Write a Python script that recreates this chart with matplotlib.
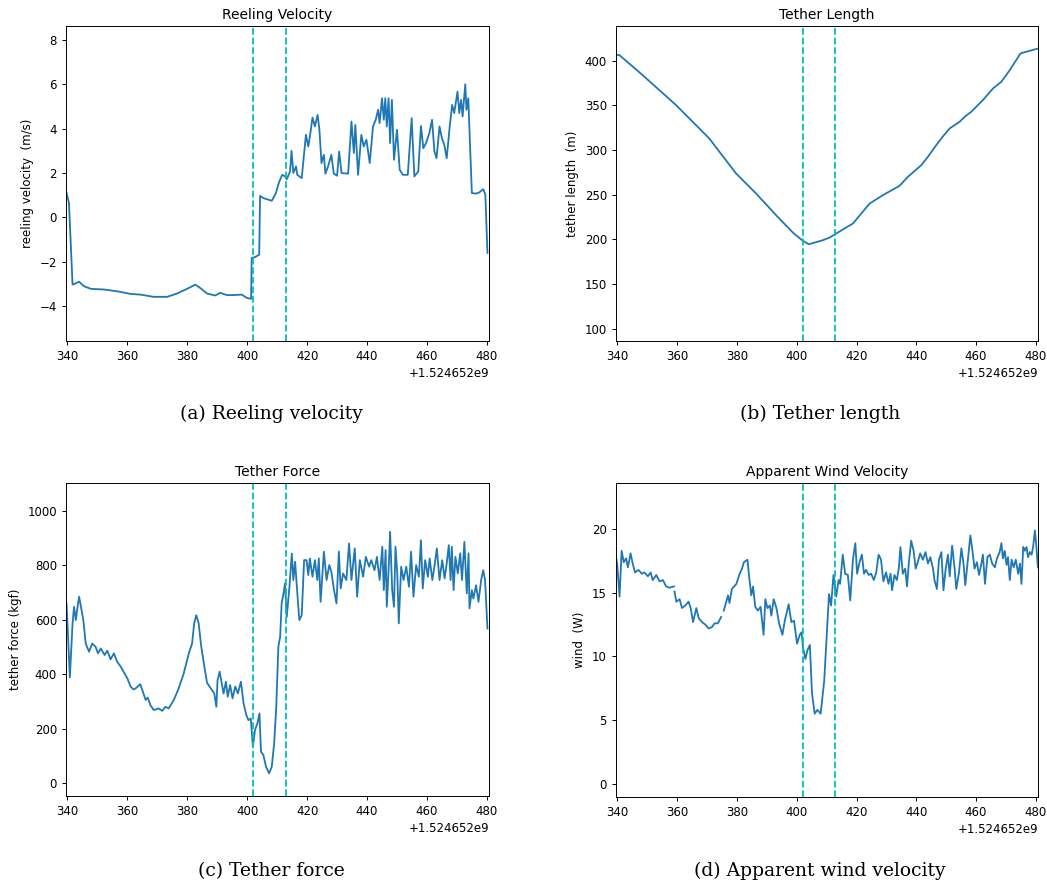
import numpy as np
import matplotlib.pyplot as plt

# time stamps are seconds after T0
T0 = 1.524652e9
phase_marks = [402.0, 412.8]
x_range = (339.5, 480.7)

# Reeling velocity (m/s)
reel_t = [339.7, 340.5, 341.7, 343.9, 345.5, 347.8, 352.2, 356.6, 361.1, 364.4,
          368.8, 373.3, 376.6, 379.9, 382.7, 384.3, 386.6, 389.3, 391.0, 393.2,
          395.4, 398.2, 399.9, 401.3, 401.5, 402.6, 404.0, 404.3, 405.4, 408.2,
          409.6, 410.6, 411.7, 412.6, 413.2, 414.3, 414.8, 415.4, 416.3, 416.7,
          418.2, 419.6, 420.4, 421.0, 421.8, 422.6, 423.5, 424.1, 424.8, 425.6,
          426.1, 427.0, 428.1, 428.9, 430.0, 430.7, 431.5, 433.7, 434.8, 435.6,
          436.1, 437.0, 438.1, 438.9, 439.8, 440.9, 442.0, 442.9, 443.7, 444.2,
          445.0, 445.6, 446.1, 446.6, 447.2, 447.7, 448.3, 449.0, 450.0, 450.9,
          452.0, 453.6, 454.9, 455.8, 457.1, 458.0, 458.8, 459.7, 460.8, 461.7,
          462.5, 463.2, 464.2, 465.0, 465.8, 466.6, 467.5, 468.4, 469.1, 470.2,
          470.8, 471.4, 471.9, 472.8, 473.2, 473.8, 474.4, 475.0, 476.3, 477.4,
          478.8, 479.5, 480.2]
reel_v = [1.1, 0.65, -3.03, -2.9, -3.1, -3.22, -3.25, -3.33, -3.45, -3.48,
          -3.58, -3.58, -3.43, -3.22, -3.03, -3.18, -3.43, -3.52, -3.4, -3.5,
          -3.5, -3.48, -3.63, -3.67, -1.83, -1.79, -1.68, 0.97, 0.87, 0.75,
          1.1, 1.58, 1.92, 1.85, 1.72, 2.07, 3.0, 2.0, 2.3, 1.92,
          1.77, 3.72, 3.2, 3.72, 4.5, 4.1, 4.62, 3.95, 2.45, 2.82,
          1.97, 2.3, 2.82, 1.97, 1.88, 2.97, 2.0, 1.97, 4.32, 2.9,
          4.17, 1.92, 3.72, 3.2, 3.5, 2.45, 4.1, 4.4, 4.85, 4.25,
          5.37, 4.4, 5.37, 4.1, 5.37, 3.35, 5.3, 2.6, 3.95, 2.15,
          1.92, 1.92, 4.47, 1.85, 2.07, 4.12, 3.12, 3.35, 3.8, 4.4,
          2.97, 2.67, 4.1, 3.57, 3.27, 2.67, 3.95, 5.07, 4.7, 5.67,
          4.7, 5.3, 4.55, 6.0, 4.85, 5.37, 3.2, 1.1, 1.07, 1.12,
          1.27, 1.02, -1.6]

# Tether length (m)
length_t = [339.1, 340.6, 348.4, 359.6, 370.7, 379.7, 386.4, 393.1, 398.7, 401.8,
            404.0, 408.7, 411.0, 413.2, 416.5, 418.8, 421.6, 424.4, 428.8, 434.4,
            437.2, 441.7, 443.9, 446.7, 449.0, 451.2, 454.5, 456.2, 458.4, 462.3,
            465.7, 468.5, 471.3, 474.9, 476.9, 480.7]
length_m = [406.4, 406.4, 383.9, 350.3, 313.0, 273.7, 251.3, 227.0, 207.6, 199.0,
            194.5, 199.0, 202.0, 206.5, 213.2, 217.7, 228.9, 240.1, 249.4, 259.9,
            270.0, 283.1, 292.4, 305.5, 315.6, 324.2, 331.6, 337.2, 342.8, 355.9,
            369.0, 376.5, 389.5, 408.2, 410.1, 413.5]

# Tether force (kgf)
force_t = [339.7, 340.8, 341.7, 342.2, 342.8, 343.3, 343.9, 344.7, 345.3, 346.1,
           347.2, 348.3, 349.4, 350.2, 351.1, 352.4, 353.3, 354.4, 355.5, 356.6,
           357.8, 359.1, 360.0, 361.1, 362.0, 362.7, 364.3, 365.0, 366.1, 366.8,
           367.7, 368.8, 370.5, 371.6, 372.7, 373.8, 375.5, 377.1, 378.8, 380.5,
           381.6, 382.3, 383.0, 383.8, 384.6, 385.7, 386.6, 387.9, 389.0, 389.7,
           390.1, 390.8, 391.5, 392.1, 392.9, 393.5, 394.3, 395.1, 396.0, 396.9,
           397.9, 398.8, 399.7, 400.4, 401.2, 401.9, 402.6, 403.4, 404.1, 404.6,
           405.4, 406.3, 407.3, 408.2, 409.0, 409.7, 410.4, 411.0, 411.5, 412.3,
           412.6, 413.2, 414.1, 414.9, 415.4, 416.0, 416.5, 417.4, 418.2, 419.0,
           419.8, 420.4, 420.9, 421.8, 422.6, 423.4, 423.9, 424.5, 425.6, 426.5,
           427.4, 428.1, 428.9, 429.8, 430.6, 431.2, 432.0, 433.1, 434.0, 434.8,
           435.9, 436.7, 437.6, 438.7, 439.6, 440.7, 441.4, 442.5, 443.3, 444.2,
           445.1, 445.6, 446.2, 446.6, 447.3, 447.7, 448.4, 449.0, 449.5, 450.1,
           450.6, 451.4, 452.2, 453.1, 454.0, 454.7, 455.5, 456.4, 457.3, 458.0,
           458.6, 459.4, 460.3, 460.9, 461.8, 462.5, 463.3, 464.2, 465.1, 465.9,
           466.6, 467.3, 467.9, 468.3, 468.9, 469.5, 470.3, 471.1, 471.7, 472.5,
           473.3, 473.9, 474.2, 475.0, 475.5, 476.4, 477.2, 478.1, 478.8, 479.4,
           480.2]
force_kgf = [660, 389, 587, 648, 599, 642, 685, 636, 599, 513,
             483, 513, 501, 477, 495, 471, 487, 455, 477, 446,
             428, 403, 385, 355, 345, 348, 364, 342, 306, 315,
             287, 269, 275, 266, 281, 275, 306, 348, 403, 477,
             513, 587, 617, 587, 507, 428, 369, 348, 330, 281,
             379, 410, 367, 330, 373, 318, 361, 312, 355, 330,
             373, 293, 251, 232, 238, 134, 196, 220, 257, 116,
             104, 61, 37, 61, 147, 281, 501, 538, 660, 709,
             733, 611, 721, 843, 746, 813, 733, 599, 617, 819,
             819, 764, 825, 758, 819, 746, 825, 666, 850, 746,
             801, 776, 715, 660, 850, 715, 770, 746, 880, 746,
             862, 685, 819, 758, 831, 795, 819, 782, 831, 746,
             868, 709, 856, 648, 807, 923, 709, 648, 868, 770,
             587, 795, 746, 795, 721, 850, 685, 801, 758, 892,
             715, 819, 758, 825, 746, 795, 862, 746, 819, 752,
             807, 874, 746, 868, 709, 831, 770, 844, 746, 886,
             697, 844, 642, 709, 678, 727, 666, 746, 782, 746,
             568]

# Apparent wind velocity (gaps are missing samples)
wind_t = [339.2, 339.9, 340.7, 341.4, 342.1, 342.9, 343.5, 344.4, 345.1, 345.9,
          347.0, 348.2, 349.0, 350.2, 351.1, 351.8, 353.0, 354.1, 355.2, 356.3,
          357.4, 358.9, 359.0, 359.1, 359.7, 360.8, 361.6, 362.7, 363.8, 364.5,
          365.3, 366.4, 367.2, 368.3, 369.4, 370.5, 371.6, 372.5, 373.6, 374.7,
          375.2, 375.6, 376.4, 377.0, 377.5, 378.3, 379.8, 380.9, 381.7, 382.3,
          383.5, 384.2, 384.8, 385.4, 386.1, 387.0, 387.9, 388.4, 388.9, 389.5,
          390.2, 391.0, 391.5, 392.3, 393.2, 394.1, 395.2, 396.0, 397.3, 398.2,
          399.1, 400.1, 401.0, 401.6, 402.1, 402.9, 403.6, 404.4, 405.1, 406.0,
          406.9, 408.0, 409.2, 410.3, 410.8, 411.5, 412.3, 413.2, 414.0, 414.5,
          415.4, 416.2, 417.1, 417.9, 418.8, 419.6, 420.2, 421.0, 421.8, 422.5,
          423.2, 424.1, 424.9, 425.8, 426.6, 427.4, 428.2, 429.0, 429.9, 430.7,
          431.4, 431.9, 432.7, 433.5, 434.2, 434.7, 435.5, 436.3, 436.9, 437.5,
          438.3, 439.1, 439.8, 440.5, 441.3, 442.2, 443.1, 443.9, 444.7, 445.6,
          446.1, 446.9, 447.6, 448.4, 449.1, 449.8, 450.6, 451.2, 452.0, 452.8,
          453.4, 454.3, 455.1, 455.8, 456.4, 457.1, 458.1, 458.8, 459.5, 460.3,
          461.0, 461.8, 462.3, 463.0, 463.8, 464.6, 465.4, 466.3, 467.0, 467.9,
          468.5, 469.0, 469.6, 470.2, 470.7, 471.3, 471.9, 472.6, 473.3, 474.1,
          474.7, 475.2, 475.8, 476.3, 476.9, 477.4, 478.0, 478.6, 479.1, 479.7,
          480.2, 480.7]
wind_w = [18.2, 17.3, 14.7, 18.3, 17.4, 17.7, 17.0, 18.1, 17.3, 16.6,
          16.8, 16.5, 16.6, 16.3, 16.6, 16.0, 16.4, 15.9, 16.0, 15.5,
          15.4, 15.5, np.nan, 15.1, 14.3, 14.5, 13.8, 14.0, 14.3, 13.8,
          12.7, 13.8, 13.0, 12.7, 12.5, 12.2, 12.3, 12.6, 12.6, 13.1,
          np.nan, 13.6, 14.3, 14.8, 14.2, 15.3, 15.7, 16.5, 16.9, 17.4,
          17.6, 16.0, 14.8, 15.5, 13.9, 13.6, 13.9, 12.8, 11.7, 14.5,
          13.8, 14.0, 13.2, 14.5, 13.8, 12.6, 11.7, 12.8, 14.1, 12.7,
          12.8, 11.0, 11.7, 11.9, 10.7, 9.8, 10.5, 10.9, 7.1, 5.5,
          5.8, 5.5, 8.1, 12.8, 14.9, 14.0, 16.4, 14.7, 16.0, 15.7,
          18.0, 16.5, 16.4, 14.4, 17.6, 18.9, 16.5, 17.4, 18.0, 16.5,
          16.8, 16.4, 16.5, 16.0, 16.6, 18.0, 17.6, 15.9, 16.6, 15.7,
          16.5, 15.2, 16.4, 16.0, 17.0, 18.6, 16.5, 16.9, 15.5, 17.3,
          19.1, 18.3, 16.9, 17.4, 18.1, 17.6, 18.2, 17.3, 17.8, 16.9,
          16.0, 15.3, 17.6, 18.2, 15.2, 16.8, 18.0, 16.3, 18.7, 17.0,
          15.3, 16.6, 18.5, 17.3, 15.6, 17.2, 19.5, 18.3, 16.9, 17.4,
          16.4, 17.3, 18.0, 15.7, 17.8, 18.0, 17.3, 17.0, 17.7, 18.2,
          18.9, 17.7, 18.3, 17.2, 17.8, 16.0, 17.6, 17.0, 17.6, 16.5,
          17.3, 15.7, 18.6, 18.3, 18.6, 17.8, 18.2, 18.0, 18.6, 19.9,
          18.6, 17.0]

panels = [
    ("Reeling Velocity", "reeling velocity  (m/s)", reel_t, reel_v, (-5.57, 8.63),
     [0.063, 0.6147, 0.404, 0.356]),
    ("Tether Length", "tether length  (m)", length_t, length_m, (86.2, 438.9),
     [0.5883, 0.6147, 0.403, 0.356]),
    ("Tether Force", "tether force (kgf)", force_t, force_kgf, (-46, 1103),
     [0.063, 0.1006, 0.404, 0.354]),
    ("Apparent Wind Velocity", "wind  (W)", wind_t, wind_w, (-1.05, 23.64),
     [0.5883, 0.0994, 0.403, 0.355]),
]
captions = ["(a) Reeling velocity", "(b) Tether length",
            "(c) Tether force", "(d) Apparent wind velocity"]
caption_xy = [(271, 414), (820, 414), (271, 871), (820, 871)]

plt.rcParams.update({
    'font.size': 8.5,
    'axes.linewidth': 0.7,
    'xtick.major.size': 3,
    'ytick.major.size': 3,
    'xtick.major.width': 0.7,
    'ytick.major.width': 0.7,
})

W, H = 1047, 885
fig = plt.figure(figsize=(W / 100, H / 100), dpi=100)

for (title, ylabel, t, y, ylim, rect) in panels:
    ax = fig.add_axes(rect)
    ax.plot(np.array(t) + T0, y, color='C0', lw=1.3)
    for m in phase_marks:
        ax.axvline(m + T0, color='c', ls='--', lw=1.3)
    ax.set_xlim(x_range[0] + T0, x_range[1] + T0)
    ax.set_ylim(*ylim)
    ax.set_xticks([T0 + s for s in range(340, 481, 20)])
    ax.xaxis.get_major_formatter().set_useOffset(T0)
    ax.set_title(title, fontsize=10, pad=5)
    ax.set_ylabel(ylabel)

for text, (cx, cy) in zip(captions, caption_xy):
    fig.text(cx / W, 1 - cy / H, text, ha='center', va='center',
             family='DejaVu Serif', fontsize=13.5)

fig.savefig('out.png', dpi=100)
